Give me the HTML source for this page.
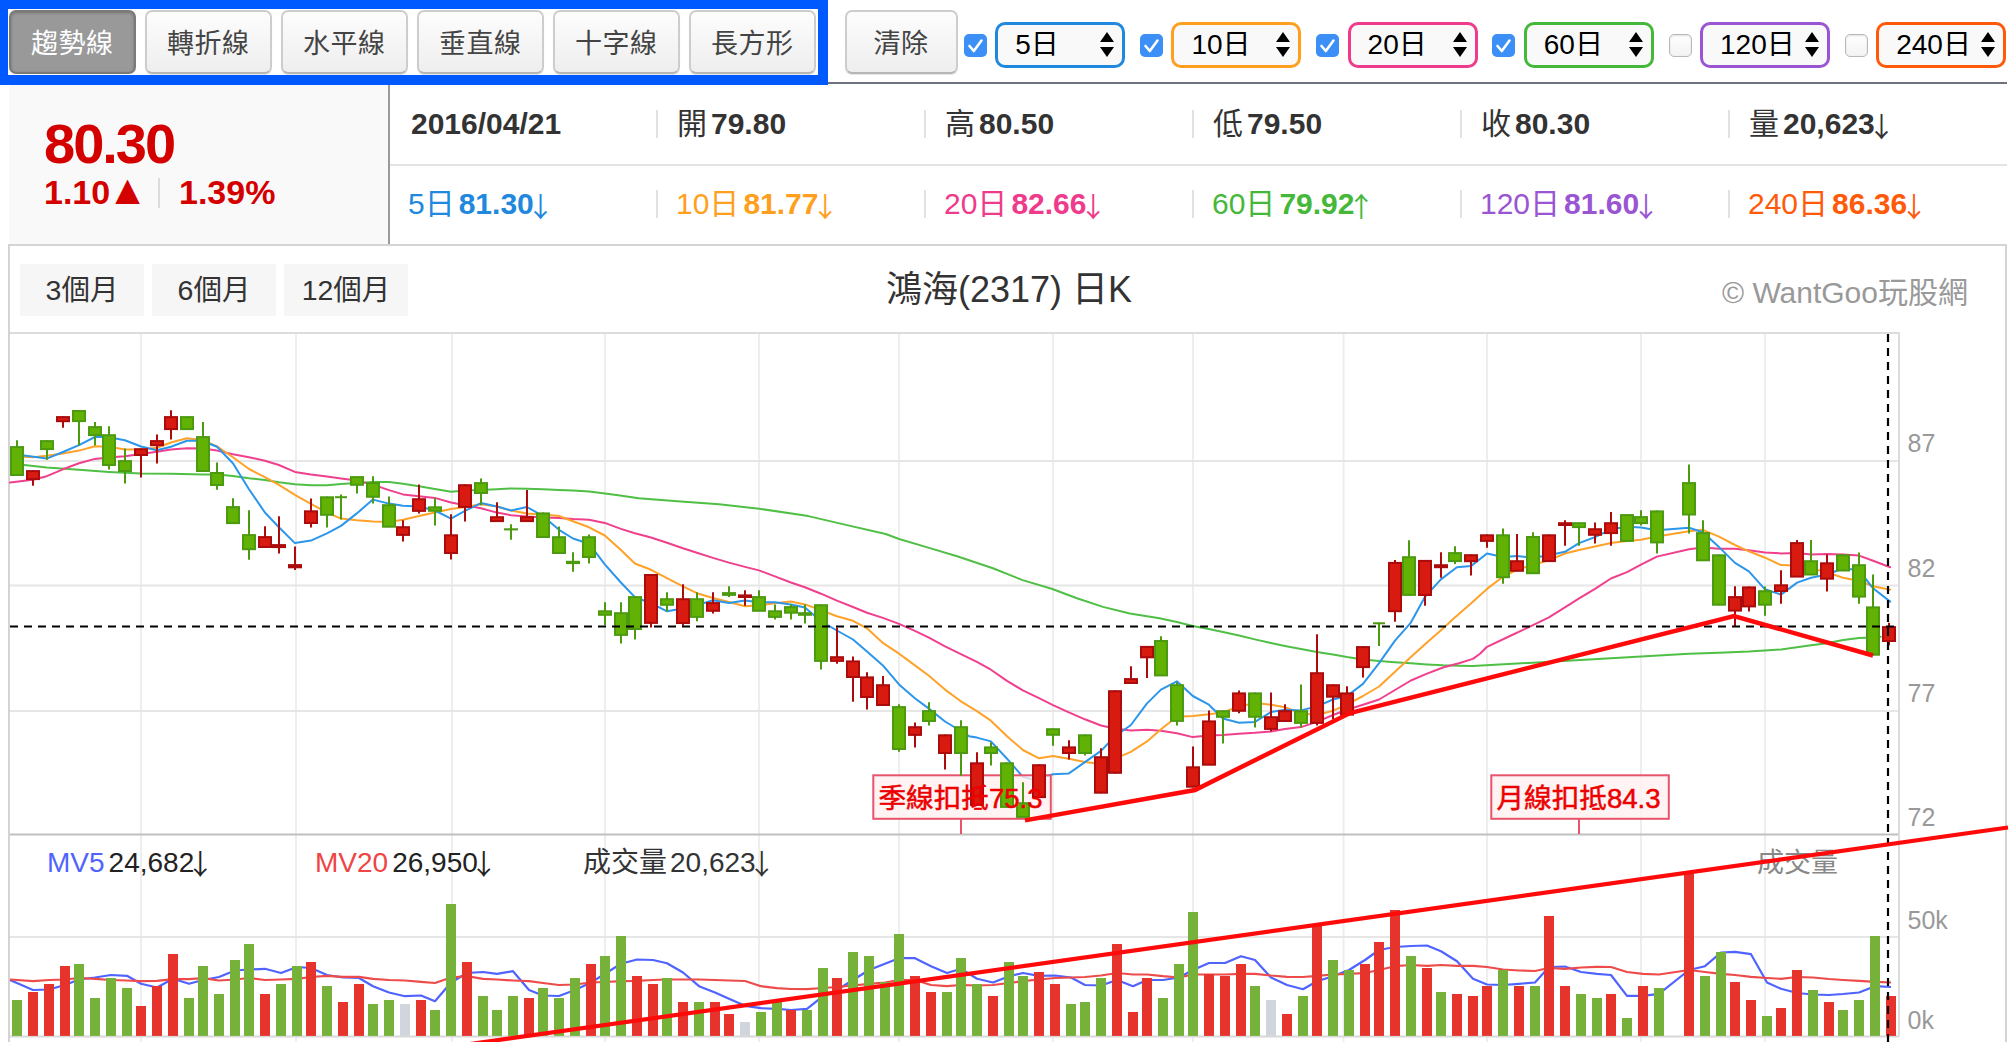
<!DOCTYPE html><html><head><meta charset="utf-8"><title>鴻海(2317) 日K</title><style>
*{box-sizing:border-box;margin:0;padding:0}
html,body{width:2016px;height:1042px;overflow:hidden;background:#fff}
body{position:relative;font-family:"Liberation Sans","Noto Sans CJK TC",sans-serif;color:#222}
.abs{position:absolute}
.bluebox{left:0;top:0;width:828px;height:85px;border:8px solid #0059ff;border-top-width:9px;border-bottom-width:10px;border-right-width:10px}
.btn{position:absolute;top:10px;height:64px;width:127px;border:2px solid #cdcdcd;border-bottom-color:#b6b6b6;border-radius:7px;background:linear-gradient(#fdfdfd,#eeeeee);box-shadow:0 1px 1px rgba(0,0,0,.10);font-size:27px;color:#444;text-align:center;line-height:65px;letter-spacing:0.5px}
.btn.on{background:#999;border-color:#7a7a7a;color:#fff;box-shadow:inset 0 1px 3px rgba(0,0,0,.25)}
.cb{position:absolute;top:34px;width:23px;height:23px;border-radius:5px;background:#3b8ff6}
.cb.off{background:linear-gradient(#fff,#f2f2f2);border:1px solid #b8b8b8;box-shadow:inset 0 1px 2px rgba(0,0,0,.12)}
.sel{position:absolute;top:22px;width:130px;height:46px;border:3px solid #000;border-radius:10px;background:#f9f9f9;font-size:28px;line-height:39px;padding-left:17px;color:#000}
.topline{left:828px;top:82px;width:1179px;height:2px;background:#6e727c}
.leftbox{left:9px;top:85px;width:381px;height:159px;background:#f9f9f9;border-right:2px solid #9a9a9a}
.price{left:44px;top:113.5px;font-size:56px;font-weight:bold;color:#d40000;line-height:60px;letter-spacing:-2px}
.chg{top:172px;font-size:34px;font-weight:bold;color:#d40000;line-height:40px}
.row{position:absolute;font-size:30px;line-height:40px;white-space:nowrap}
.ar{font-family:'Noto Sans CJK TC',sans-serif;font-weight:normal;font-size:27.5px;margin-left:-7px;margin-right:-8px;position:relative;top:3px;line-height:0}
.row b{font-weight:bold}
.vsep{position:absolute;width:2px;height:28px;background:#e2e2e2}
.hsep{left:390px;top:164px;width:1617px;height:2px;background:#e4e4e4}
.chartbox{left:8px;top:244px;width:1999px;height:810px;border:2px solid #d4d4d4;border-bottom:none}
.rbtn{position:absolute;top:264px;width:124px;height:52px;background:#f6f6f6;font-size:28.5px;line-height:52px;text-align:center;color:#333}
.title{left:609px;width:800px;top:268px;font-size:36px;line-height:44px;text-align:center;color:#333}
.copy{right:48px;top:273px;font-size:30px;line-height:40px;color:#999;white-space:nowrap}
svg{position:absolute;left:0;top:0}
svg text{font-family:"Liberation Sans","Noto Sans CJK TC",sans-serif}
</style></head><body>
<div class="abs bluebox"></div>
<div class="btn on" style="left:8.7px">趨勢線</div>
<div class="btn" style="left:144.7px">轉折線</div>
<div class="btn" style="left:280.7px">水平線</div>
<div class="btn" style="left:416.7px">垂直線</div>
<div class="btn" style="left:552.7px">十字線</div>
<div class="btn" style="left:688.7px">長方形</div>
<div class="btn" style="left:844.5px;width:113px">清除</div>
<div class="cb" style="left:963.8px"><svg width="23" height="23" viewBox="0 0 23 23" style="position:static;display:block"><path d="M5.5 12 L9.8 17 L17.5 6.5" fill="none" stroke="#fff" stroke-width="2.6" stroke-linecap="round" stroke-linejoin="round"/></svg></div>
<div class="sel" style="left:995.2px;border-color:#2089de">5日<svg width="14" height="26" viewBox="0 0 14 26" style="position:absolute;left:102px;top:7px"><path d="M7 0 L14 10 L0 10 Z M0 15 L14 15 L7 25 Z" fill="#000"/></svg></div>
<div class="cb" style="left:1140.0px"><svg width="23" height="23" viewBox="0 0 23 23" style="position:static;display:block"><path d="M5.5 12 L9.8 17 L17.5 6.5" fill="none" stroke="#fff" stroke-width="2.6" stroke-linecap="round" stroke-linejoin="round"/></svg></div>
<div class="sel" style="left:1171.4px;border-color:#ff9f20">10日<svg width="14" height="26" viewBox="0 0 14 26" style="position:absolute;left:102px;top:7px"><path d="M7 0 L14 10 L0 10 Z M0 15 L14 15 L7 25 Z" fill="#000"/></svg></div>
<div class="cb" style="left:1316.2px"><svg width="23" height="23" viewBox="0 0 23 23" style="position:static;display:block"><path d="M5.5 12 L9.8 17 L17.5 6.5" fill="none" stroke="#fff" stroke-width="2.6" stroke-linecap="round" stroke-linejoin="round"/></svg></div>
<div class="sel" style="left:1347.6px;border-color:#ef3b8b">20日<svg width="14" height="26" viewBox="0 0 14 26" style="position:absolute;left:102px;top:7px"><path d="M7 0 L14 10 L0 10 Z M0 15 L14 15 L7 25 Z" fill="#000"/></svg></div>
<div class="cb" style="left:1492.4px"><svg width="23" height="23" viewBox="0 0 23 23" style="position:static;display:block"><path d="M5.5 12 L9.8 17 L17.5 6.5" fill="none" stroke="#fff" stroke-width="2.6" stroke-linecap="round" stroke-linejoin="round"/></svg></div>
<div class="sel" style="left:1523.8px;border-color:#45b83a">60日<svg width="14" height="26" viewBox="0 0 14 26" style="position:absolute;left:102px;top:7px"><path d="M7 0 L14 10 L0 10 Z M0 15 L14 15 L7 25 Z" fill="#000"/></svg></div>
<div class="cb off" style="left:1668.6px"></div>
<div class="sel" style="left:1700.0px;border-color:#9a55d3">120日<svg width="14" height="26" viewBox="0 0 14 26" style="position:absolute;left:102px;top:7px"><path d="M7 0 L14 10 L0 10 Z M0 15 L14 15 L7 25 Z" fill="#000"/></svg></div>
<div class="cb off" style="left:1844.8px"></div>
<div class="sel" style="left:1876.2px;border-color:#ff5a0a">240日<svg width="14" height="26" viewBox="0 0 14 26" style="position:absolute;left:102px;top:7px"><path d="M7 0 L14 10 L0 10 Z M0 15 L14 15 L7 25 Z" fill="#000"/></svg></div>
<div class="abs topline"></div>
<div class="abs leftbox"></div>
<div class="abs price">80.30</div>
<div class="abs chg" style="left:44px;top:171.5px">1.10<span style="font-size:32px;font-family:DejaVu Sans,sans-serif;margin-left:5px;position:relative;top:-3.5px;line-height:0">▲</span></div>
<div class="vsep" style="left:158px;top:178px;height:30px;background:#dcdcdc"></div>
<div class="abs chg" style="left:179px">1.39%</div>
<div class="row" style="left:411px;top:104px;color:#333"><b style="margin-left:0px">2016/04/21</b></div>
<div class="row" style="left:677px;top:104px;color:#333">開<b style="margin-left:4px">79.80</b></div>
<div class="vsep" style="left:656px;top:110px"></div>
<div class="row" style="left:945px;top:104px;color:#333">高<b style="margin-left:4px">80.50</b></div>
<div class="vsep" style="left:924px;top:110px"></div>
<div class="row" style="left:1213px;top:104px;color:#333">低<b style="margin-left:4px">79.50</b></div>
<div class="vsep" style="left:1192px;top:110px"></div>
<div class="row" style="left:1481px;top:104px;color:#333">收<b style="margin-left:4px">80.30</b></div>
<div class="vsep" style="left:1460px;top:110px"></div>
<div class="row" style="left:1749px;top:104px;color:#333">量<b style="margin-left:4px">20,623<span class="ar">↓</span></b></div>
<div class="vsep" style="left:1728px;top:110px"></div>
<div class="row" style="left:408px;top:184px;color:#2089de">5日<b style="margin-left:4px">81.30<span class="ar">↓</span></b></div>
<div class="row" style="left:676px;top:184px;color:#ff9f20">10日<b style="margin-left:4px">81.77<span class="ar">↓</span></b></div>
<div class="vsep" style="left:656px;top:190px"></div>
<div class="row" style="left:944px;top:184px;color:#ef3b8b">20日<b style="margin-left:4px">82.66<span class="ar">↓</span></b></div>
<div class="vsep" style="left:924px;top:190px"></div>
<div class="row" style="left:1212px;top:184px;color:#45b83a">60日<b style="margin-left:4px">79.92<span class="ar">↑</span></b></div>
<div class="vsep" style="left:1192px;top:190px"></div>
<div class="row" style="left:1480px;top:184px;color:#9a55d3">120日<b style="margin-left:4px">81.60<span class="ar">↓</span></b></div>
<div class="vsep" style="left:1460px;top:190px"></div>
<div class="row" style="left:1748px;top:184px;color:#ff5a0a">240日<b style="margin-left:4px">86.36<span class="ar">↓</span></b></div>
<div class="vsep" style="left:1728px;top:190px"></div>
<div class="abs hsep"></div>
<div class="abs chartbox"></div>
<div class="rbtn" style="left:20px">3個月</div>
<div class="rbtn" style="left:152px">6個月</div>
<div class="rbtn" style="left:284px">12個月</div>
<div class="abs title">鴻海(2317) 日K</div>
<div class="abs copy">© WantGoo玩股網</div>
<svg width="2016" height="1042" viewBox="0 0 2016 1042">
<path d="M141 333 V1042.5" stroke="#eeeeee" stroke-width="2"/><path d="M296 333 V1042.5" stroke="#eeeeee" stroke-width="2"/><path d="M452 333 V1042.5" stroke="#eeeeee" stroke-width="2"/><path d="M605 333 V1042.5" stroke="#eeeeee" stroke-width="2"/><path d="M759 333 V1042.5" stroke="#eeeeee" stroke-width="2"/><path d="M899 333 V1042.5" stroke="#eeeeee" stroke-width="2"/><path d="M1053 333 V1042.5" stroke="#eeeeee" stroke-width="2"/><path d="M1193 333 V1042.5" stroke="#eeeeee" stroke-width="2"/><path d="M1343.5 333 V1042.5" stroke="#eeeeee" stroke-width="2"/><path d="M1487 333 V1042.5" stroke="#eeeeee" stroke-width="2"/><path d="M1641 333 V1042.5" stroke="#eeeeee" stroke-width="2"/><path d="M1765 333 V1042.5" stroke="#eeeeee" stroke-width="2"/><path d="M10 461 H1899" stroke="#e6e6e6" stroke-width="2"/><path d="M10 585.5 H1899" stroke="#e6e6e6" stroke-width="2"/><path d="M10 711 H1899" stroke="#e6e6e6" stroke-width="2"/><path d="M10 937 H1899" stroke="#e6e6e6" stroke-width="2"/><path d="M10 333 H1899 V834.5" stroke="#dcdcdc" stroke-width="2" fill="none"/><path d="M10 834.5 H1899" stroke="#c0c0c0" stroke-width="2"/><path d="M1899 834.5 V1036.5" stroke="#dcdcdc" stroke-width="2"/><path d="M10 1036.5 H1899" stroke="#d8d8d8" stroke-width="2"/>
<path d="M10.0 980.0 L33.0 990.0 L49.0 989.5 L65.0 985.0 L79.0 979.5 L95.0 977.5 L111.0 975.0 L127.0 975.8 L141.0 983.8 L157.0 987.5 L173.0 978.8 L189.0 983.8 L203.0 980.0 L219.0 977.0 L235.0 970.5 L249.0 969.5 L265.0 968.8 L281.0 973.0 L297.0 967.0 L311.0 968.0 L327.0 975.0 L343.0 977.5 L359.0 978.0 L373.0 986.2 L389.0 992.5 L405.0 996.2 L421.0 995.5 L435.0 1001.2 L451.0 982.5 L467.0 973.0 L483.0 972.0 L497.0 973.8 L513.0 971.2 L529.0 990.0 L543.0 995.5 L559.0 996.0 L575.0 990.0 L591.0 982.5 L605.0 973.8 L621.0 963.8 L637.0 959.5 L653.0 960.0 L667.0 963.2 L683.0 972.5 L699.0 986.2 L715.0 992.5 L729.0 998.8 L745.0 1005.8 L761.0 1008.2 L777.0 1008.8 L791.0 1010.0 L807.0 1008.8 L823.0 996.2 L837.0 990.0 L853.0 980.0 L869.0 970.0 L885.0 963.8 L899.0 958.2 L915.0 958.2 L931.0 966.2 L947.0 973.0 L961.0 968.8 L977.0 978.8 L993.0 982.5 L1009.0 976.2 L1023.0 973.0 L1039.0 975.8 L1055.0 975.5 L1071.0 977.5 L1085.0 985.0 L1101.0 985.5 L1117.0 980.0 L1133.0 986.2 L1147.0 980.0 L1163.0 980.0 L1179.0 977.5 L1193.0 970.0 L1209.0 963.0 L1225.0 963.0 L1241.0 956.2 L1255.0 960.0 L1271.0 977.5 L1287.0 985.0 L1303.0 989.2 L1317.0 981.2 L1333.0 976.2 L1349.0 970.0 L1365.0 960.0 L1379.0 950.0 L1395.0 947.0 L1411.0 946.0 L1427.0 945.5 L1441.0 951.2 L1457.0 961.2 L1473.0 978.8 L1487.0 984.5 L1503.0 985.0 L1519.0 983.8 L1535.0 982.5 L1549.0 967.0 L1565.0 966.5 L1581.0 972.0 L1597.0 973.8 L1611.0 975.0 L1627.0 995.8 L1643.0 995.8 L1659.0 993.8 L1689.0 970.0 L1705.0 966.2 L1721.0 952.5 L1735.0 951.8 L1751.0 954.2 L1767.0 982.5 L1781.0 988.8 L1797.0 993.0 L1813.0 994.5 L1829.0 995.0 L1843.0 994.0 L1859.0 992.5 L1875.0 986.2 L1891.0 987.0" fill="none" stroke="#4f63ff" stroke-width="2.2" stroke-linejoin="round"/>
<path d="M10.0 979.5 L33.0 981.2 L49.0 980.0 L65.0 979.5 L79.0 978.0 L95.0 978.8 L111.0 980.0 L127.0 980.5 L141.0 981.2 L157.0 980.8 L173.0 979.2 L189.0 979.2 L203.0 978.2 L219.0 980.5 L235.0 979.5 L249.0 978.0 L265.0 980.0 L281.0 979.5 L297.0 978.8 L311.0 977.0 L327.0 975.8 L343.0 976.8 L359.0 976.8 L373.0 978.8 L389.0 980.0 L405.0 980.5 L421.0 981.8 L435.0 983.0 L451.0 977.5 L467.0 976.2 L483.0 978.8 L497.0 979.5 L513.0 980.5 L529.0 981.2 L543.0 983.0 L559.0 985.0 L575.0 984.5 L591.0 982.5 L605.0 982.0 L621.0 981.2 L637.0 980.8 L653.0 980.0 L667.0 979.5 L683.0 979.5 L699.0 979.5 L715.0 980.0 L729.0 980.5 L745.0 981.0 L761.0 986.2 L777.0 988.2 L791.0 989.0 L807.0 989.2 L823.0 988.0 L837.0 987.0 L853.0 985.5 L869.0 983.8 L885.0 982.5 L899.0 980.0 L915.0 980.0 L931.0 985.0 L947.0 986.2 L961.0 985.0 L977.0 985.5 L993.0 985.0 L1009.0 983.0 L1023.0 981.2 L1039.0 979.5 L1055.0 978.0 L1071.0 977.5 L1085.0 977.0 L1101.0 975.5 L1117.0 973.0 L1133.0 974.5 L1147.0 974.5 L1163.0 976.2 L1179.0 977.5 L1193.0 974.5 L1209.0 974.5 L1225.0 974.5 L1241.0 973.8 L1255.0 973.8 L1271.0 975.5 L1287.0 976.8 L1303.0 977.0 L1317.0 975.8 L1333.0 974.5 L1349.0 973.8 L1365.0 973.0 L1379.0 970.0 L1395.0 966.2 L1411.0 965.0 L1427.0 965.8 L1441.0 965.0 L1457.0 965.8 L1473.0 965.8 L1487.0 967.0 L1503.0 969.5 L1519.0 970.5 L1535.0 971.0 L1549.0 968.0 L1565.0 968.8 L1581.0 967.5 L1597.0 966.8 L1611.0 967.0 L1627.0 972.0 L1643.0 973.8 L1659.0 974.5 L1689.0 970.0 L1705.0 972.0 L1721.0 973.8 L1735.0 975.0 L1751.0 976.8 L1767.0 978.0 L1781.0 978.8 L1797.0 977.0 L1813.0 977.5 L1829.0 979.0 L1843.0 980.0 L1859.0 980.8 L1875.0 981.8 L1891.0 982.5" fill="none" stroke="#ee4b4b" stroke-width="2.2" stroke-linejoin="round"/>
<rect x="12" y="1000.0" width="10" height="35.9" fill="#76b139"/><rect x="28" y="992.0" width="10" height="43.9" fill="#e6342c"/><rect x="44" y="984.0" width="10" height="51.9" fill="#e6342c"/><rect x="60" y="966.0" width="10" height="69.9" fill="#e6342c"/><rect x="74" y="964.0" width="10" height="71.9" fill="#76b139"/><rect x="90" y="998.0" width="10" height="37.9" fill="#76b139"/><rect x="106" y="978.0" width="10" height="57.9" fill="#76b139"/><rect x="122" y="988.0" width="10" height="47.9" fill="#76b139"/><rect x="136" y="1006.0" width="10" height="29.9" fill="#e6342c"/><rect x="152" y="986.0" width="10" height="49.9" fill="#e6342c"/><rect x="168" y="954.0" width="10" height="81.9" fill="#e6342c"/><rect x="184" y="998.0" width="10" height="37.9" fill="#76b139"/><rect x="198" y="966.0" width="10" height="69.9" fill="#76b139"/><rect x="214" y="994.0" width="10" height="41.9" fill="#76b139"/><rect x="230" y="960.0" width="10" height="75.9" fill="#76b139"/><rect x="244" y="944.0" width="10" height="91.9" fill="#76b139"/><rect x="260" y="994.0" width="10" height="41.9" fill="#e6342c"/><rect x="276" y="984.0" width="10" height="51.9" fill="#76b139"/><rect x="292" y="966.0" width="10" height="69.9" fill="#76b139"/><rect x="306" y="962.0" width="10" height="73.9" fill="#e6342c"/><rect x="322" y="986.0" width="10" height="49.9" fill="#76b139"/><rect x="338" y="1002.0" width="10" height="33.9" fill="#e6342c"/><rect x="354" y="984.0" width="10" height="51.9" fill="#e6342c"/><rect x="368" y="1004.0" width="10" height="31.9" fill="#76b139"/><rect x="384" y="1000.0" width="10" height="35.9" fill="#76b139"/><rect x="400" y="1004.0" width="10" height="31.9" fill="#d0d6db"/><rect x="416" y="1000.0" width="10" height="35.9" fill="#e6342c"/><rect x="430" y="1010.0" width="10" height="25.9" fill="#76b139"/><rect x="446" y="904.0" width="10" height="131.9" fill="#76b139"/><rect x="462" y="962.0" width="10" height="73.9" fill="#e6342c"/><rect x="478" y="996.0" width="10" height="39.9" fill="#76b139"/><rect x="492" y="1010.0" width="10" height="25.9" fill="#76b139"/><rect x="508" y="996.0" width="10" height="39.9" fill="#76b139"/><rect x="524" y="998.0" width="10" height="37.9" fill="#e6342c"/><rect x="538" y="988.0" width="10" height="47.9" fill="#76b139"/><rect x="554" y="998.0" width="10" height="37.9" fill="#76b139"/><rect x="570" y="978.0" width="10" height="57.9" fill="#76b139"/><rect x="586" y="964.0" width="10" height="71.9" fill="#e6342c"/><rect x="600" y="956.0" width="10" height="79.9" fill="#76b139"/><rect x="616" y="936.0" width="10" height="99.9" fill="#76b139"/><rect x="632" y="976.0" width="10" height="59.9" fill="#e6342c"/><rect x="648" y="984.0" width="10" height="51.9" fill="#e6342c"/><rect x="662" y="978.0" width="10" height="57.9" fill="#76b139"/><rect x="678" y="1002.0" width="10" height="33.9" fill="#e6342c"/><rect x="694" y="1002.0" width="10" height="33.9" fill="#76b139"/><rect x="710" y="1002.0" width="10" height="33.9" fill="#e6342c"/><rect x="724" y="1014.0" width="10" height="21.9" fill="#e6342c"/><rect x="740" y="1022.0" width="10" height="13.9" fill="#d0d6db"/><rect x="756" y="1012.0" width="10" height="23.9" fill="#76b139"/><rect x="772" y="1002.0" width="10" height="33.9" fill="#76b139"/><rect x="786" y="1010.0" width="10" height="25.9" fill="#e6342c"/><rect x="802" y="1010.0" width="10" height="25.9" fill="#76b139"/><rect x="818" y="968.0" width="10" height="67.9" fill="#76b139"/><rect x="832" y="978.0" width="10" height="57.9" fill="#e6342c"/><rect x="848" y="952.0" width="10" height="83.9" fill="#76b139"/><rect x="864" y="956.0" width="10" height="79.9" fill="#76b139"/><rect x="880" y="982.0" width="10" height="53.9" fill="#76b139"/><rect x="894" y="934.0" width="10" height="101.9" fill="#76b139"/><rect x="910" y="976.0" width="10" height="59.9" fill="#e6342c"/><rect x="926" y="992.0" width="10" height="43.9" fill="#e6342c"/><rect x="942" y="992.0" width="10" height="43.9" fill="#76b139"/><rect x="956" y="958.0" width="10" height="77.9" fill="#76b139"/><rect x="972" y="984.0" width="10" height="51.9" fill="#76b139"/><rect x="988" y="996.0" width="10" height="39.9" fill="#e6342c"/><rect x="1004" y="962.0" width="10" height="73.9" fill="#76b139"/><rect x="1018" y="976.0" width="10" height="59.9" fill="#76b139"/><rect x="1034" y="972.0" width="10" height="63.9" fill="#e6342c"/><rect x="1050" y="984.0" width="10" height="51.9" fill="#e6342c"/><rect x="1066" y="1004.0" width="10" height="31.9" fill="#76b139"/><rect x="1080" y="1002.0" width="10" height="33.9" fill="#76b139"/><rect x="1096" y="978.0" width="10" height="57.9" fill="#76b139"/><rect x="1112" y="944.0" width="10" height="91.9" fill="#e6342c"/><rect x="1128" y="1012.0" width="10" height="23.9" fill="#e6342c"/><rect x="1142" y="978.0" width="10" height="57.9" fill="#e6342c"/><rect x="1158" y="998.0" width="10" height="37.9" fill="#76b139"/><rect x="1174" y="964.0" width="10" height="71.9" fill="#76b139"/><rect x="1188" y="912.0" width="10" height="123.9" fill="#76b139"/><rect x="1204" y="974.0" width="10" height="61.9" fill="#e6342c"/><rect x="1220" y="976.0" width="10" height="59.9" fill="#e6342c"/><rect x="1236" y="964.0" width="10" height="71.9" fill="#e6342c"/><rect x="1250" y="986.0" width="10" height="49.9" fill="#76b139"/><rect x="1266" y="1000.0" width="10" height="35.9" fill="#d0d6db"/><rect x="1282" y="1014.0" width="10" height="21.9" fill="#e6342c"/><rect x="1298" y="996.0" width="10" height="39.9" fill="#76b139"/><rect x="1312" y="925.0" width="10" height="110.9" fill="#e6342c"/><rect x="1328" y="960.0" width="10" height="75.9" fill="#76b139"/><rect x="1344" y="970.0" width="10" height="65.9" fill="#76b139"/><rect x="1360" y="964.0" width="10" height="71.9" fill="#e6342c"/><rect x="1374" y="942.0" width="10" height="93.9" fill="#e6342c"/><rect x="1390" y="910.0" width="10" height="125.9" fill="#e6342c"/><rect x="1406" y="956.0" width="10" height="79.9" fill="#76b139"/><rect x="1422" y="968.0" width="10" height="67.9" fill="#e6342c"/><rect x="1436" y="992.0" width="10" height="43.9" fill="#76b139"/><rect x="1452" y="994.0" width="10" height="41.9" fill="#e6342c"/><rect x="1468" y="996.0" width="10" height="39.9" fill="#e6342c"/><rect x="1482" y="986.0" width="10" height="49.9" fill="#e6342c"/><rect x="1498" y="970.0" width="10" height="65.9" fill="#76b139"/><rect x="1514" y="986.0" width="10" height="49.9" fill="#e6342c"/><rect x="1530" y="986.0" width="10" height="49.9" fill="#76b139"/><rect x="1544" y="916.0" width="10" height="119.9" fill="#e6342c"/><rect x="1560" y="986.0" width="10" height="49.9" fill="#e6342c"/><rect x="1576" y="994.0" width="10" height="41.9" fill="#76b139"/><rect x="1592" y="998.0" width="10" height="37.9" fill="#76b139"/><rect x="1606" y="994.0" width="10" height="41.9" fill="#e6342c"/><rect x="1622" y="1018.0" width="10" height="17.9" fill="#76b139"/><rect x="1638" y="986.0" width="10" height="49.9" fill="#e6342c"/><rect x="1654" y="988.0" width="10" height="47.9" fill="#76b139"/><rect x="1684" y="874.0" width="10" height="161.9" fill="#e6342c"/><rect x="1700" y="976.0" width="10" height="59.9" fill="#76b139"/><rect x="1716" y="952.0" width="10" height="83.9" fill="#76b139"/><rect x="1730" y="982.0" width="10" height="53.9" fill="#e6342c"/><rect x="1746" y="1000.0" width="10" height="35.9" fill="#e6342c"/><rect x="1762" y="1016.0" width="10" height="19.9" fill="#76b139"/><rect x="1776" y="1008.0" width="10" height="27.9" fill="#e6342c"/><rect x="1792" y="970.0" width="10" height="65.9" fill="#e6342c"/><rect x="1808" y="990.0" width="10" height="45.9" fill="#76b139"/><rect x="1824" y="1002.0" width="10" height="33.9" fill="#e6342c"/><rect x="1838" y="1010.0" width="10" height="25.9" fill="#76b139"/><rect x="1854" y="1000.0" width="10" height="35.9" fill="#76b139"/><rect x="1870" y="936.0" width="10" height="99.9" fill="#76b139"/><rect x="1886" y="996.0" width="10" height="39.9" fill="#e6342c"/>
<path d="M24.2 465.0 L46.8 467.6 L79.0 469.8 L108.9 471.9 L141.0 473.6 L170.9 473.8 L203.0 474.5 L217.0 474.5 L232.9 475.9 L249.0 478.3 L264.9 480.0 L278.9 482.3 L294.9 484.3 L310.9 485.3 L327.0 485.3 L341.0 484.1 L356.8 482.9 L372.9 482.0 L389.0 482.0 L403.0 483.7 L419.0 486.3 L434.9 488.9 L451.0 491.8 L465.0 490.6 L480.9 490.1 L497.0 489.2 L511.0 488.4 L527.0 488.7 L542.9 489.2 L559.0 490.1 L573.0 490.6 L589.1 491.5 L605.0 493.6 L620.0 495.6 L638.7 498.3 L677.4 501.2 L719.0 504.2 L759.2 508.7 L808.3 516.1 L847.0 525.1 L885.7 534.0 L899.1 539.0 L927.4 547.4 L957.1 556.3 L992.9 568.2 L1022.6 580.1 L1052.4 589.0 L1076.2 598.0 L1103.0 606.9 L1129.8 613.5 L1159.5 618.2 L1176.9 622.1 L1192.8 626.0 L1208.9 629.0 L1222.9 632.1 L1239.0 635.6 L1254.9 639.4 L1270.9 643.0 L1284.9 645.9 L1301.0 649.0 L1316.9 652.0 L1333.0 654.6 L1347.0 657.1 L1363.0 659.4 L1379.1 661.1 L1395.0 662.3 L1410.9 663.2 L1427.0 664.4 L1443.0 665.3 L1458.9 665.8 L1472.9 666.1 L1689.0 653.7 L1719.0 652.7 L1748.9 651.6 L1781.0 649.5 L1811.0 645.3 L1827.0 643.2 L1843.1 640.0 L1859.1 637.9 L1873.1 637.5 L1880.7 636.8" fill="none" stroke="#4fbf45" stroke-width="2" stroke-linejoin="round" stroke-linecap="round"/>
<path d="M10.0 482.6 L32.8 479.7 L46.8 476.2 L62.9 469.3 L79.0 463.3 L94.9 458.9 L108.9 457.5 L124.9 456.3 L141.0 454.1 L156.9 451.7 L170.9 449.4 L187.0 448.2 L203.0 448.6 L217.0 450.6 L232.9 454.3 L249.0 457.2 L264.9 460.7 L278.9 465.0 L294.9 471.9 L310.9 474.6 L327.0 476.6 L341.0 478.4 L356.8 480.6 L372.9 484.6 L389.0 490.1 L403.0 494.4 L419.0 496.2 L434.9 497.9 L451.0 502.5 L465.0 505.3 L480.9 508.3 L497.0 512.6 L511.0 515.2 L527.0 516.5 L542.9 517.4 L559.0 518.1 L573.0 519.1 L589.1 519.8 L604.8 522.9 L620.9 528.9 L634.9 533.2 L651.0 537.5 L667.0 542.7 L682.9 548.3 L696.9 552.7 L713.0 557.9 L728.9 562.6 L745.0 566.9 L759.0 570.4 L774.9 576.4 L790.9 582.5 L804.9 587.3 L821.0 593.7 L836.9 600.6 L853.0 607.0 L867.0 612.7 L882.9 617.9 L899.0 623.9 L914.9 630.8 L928.9 637.7 L945.0 646.4 L960.9 654.1 L976.9 661.9 L990.9 669.7 L1007.0 680.9 L1022.9 690.4 L1039.0 698.2 L1053.0 705.1 L1068.9 712.4 L1084.9 719.3 L1101.0 725.5 L1115.0 728.4 L1130.9 730.5 L1147.0 729.8 L1161.0 730.7 L1176.9 733.2 L1192.8 737.1 L1208.9 735.4 L1222.9 734.9 L1239.0 733.7 L1254.9 732.8 L1270.9 731.4 L1284.9 728.9 L1301.0 727.1 L1316.9 721.9 L1333.0 715.0 L1347.0 709.8 L1363.0 704.7 L1379.1 699.5 L1395.0 690.0 L1410.9 680.5 L1427.0 673.6 L1443.0 667.5 L1458.9 663.2 L1472.9 658.9 L1480.0 653.7 L1487.0 646.8 L1512.1 635.0 L1533.0 625.2 L1548.9 617.4 L1564.9 607.4 L1579.1 598.4 L1595.0 588.9 L1610.9 578.5 L1627.0 572.1 L1641.0 564.7 L1656.9 556.6 L1689.0 549.2 L1702.9 547.5 L1719.0 548.8 L1735.0 548.8 L1748.9 550.3 L1765.0 552.4 L1781.0 553.4 L1797.1 553.0 L1811.0 554.5 L1827.0 554.1 L1843.1 554.5 L1859.1 555.6 L1873.1 560.8 L1890.2 567.2" fill="none" stroke="#f0408d" stroke-width="2" stroke-linejoin="round" stroke-linecap="round"/>
<path d="M24.2 456.7 L32.8 457.2 L46.8 455.8 L62.9 453.4 L79.0 450.6 L94.9 446.3 L108.9 446.8 L124.9 449.4 L141.0 449.6 L156.9 447.7 L170.9 442.5 L187.0 438.2 L203.0 440.3 L217.0 446.3 L232.9 457.2 L249.0 469.0 L264.9 477.1 L278.9 484.8 L294.9 494.9 L310.9 503.9 L327.0 512.6 L341.0 518.6 L356.8 520.3 L372.9 521.6 L389.0 522.1 L403.0 519.8 L419.0 516.0 L434.9 512.6 L451.0 509.1 L465.0 507.0 L480.9 504.3 L497.0 506.5 L511.0 510.5 L527.0 513.4 L542.9 514.6 L559.0 516.0 L573.0 521.2 L589.1 527.3 L604.8 535.5 L620.9 550.0 L634.9 563.5 L651.0 569.8 L667.0 578.1 L682.9 586.3 L696.9 593.2 L713.0 598.0 L728.9 602.0 L745.0 606.3 L759.0 605.3 L774.9 603.2 L790.9 601.5 L804.9 604.4 L821.0 610.1 L836.9 616.2 L853.0 620.8 L867.0 628.3 L882.9 642.9 L899.0 653.6 L914.9 665.4 L928.9 675.7 L945.0 689.6 L960.9 701.3 L976.9 711.2 L990.9 720.7 L1007.0 736.2 L1022.9 750.0 L1039.0 758.3 L1053.0 756.1 L1068.9 758.7 L1084.9 762.1 L1101.0 763.9 L1115.0 758.7 L1130.9 751.8 L1147.0 741.4 L1161.0 729.3 L1176.9 716.8 L1192.8 715.9 L1208.9 714.2 L1222.9 712.4 L1239.0 706.4 L1254.9 702.9 L1270.9 704.7 L1284.9 707.3 L1301.0 713.3 L1316.9 715.0 L1333.0 710.7 L1347.0 704.7 L1363.0 696.0 L1379.1 686.5 L1395.0 671.8 L1410.9 657.1 L1427.0 642.5 L1443.0 628.6 L1452.0 620.0 L1470.9 603.6 L1487.0 588.9 L1502.9 576.8 L1516.9 569.9 L1533.0 564.7 L1548.9 560.4 L1564.9 553.5 L1579.1 550.0 L1595.0 546.6 L1610.9 543.1 L1627.0 541.0 L1641.0 539.7 L1656.9 536.6 L1689.0 531.3 L1702.9 529.8 L1719.0 536.6 L1735.0 545.0 L1748.9 551.3 L1765.0 557.7 L1781.0 565.1 L1797.1 565.5 L1811.0 568.2 L1827.0 572.4 L1843.1 577.7 L1859.1 580.9 L1873.1 586.2 L1890.2 589.8" fill="none" stroke="#ffa22a" stroke-width="2" stroke-linejoin="round" stroke-linecap="round"/>
<path d="M24.2 455.5 L46.8 458.6 L62.9 452.0 L79.0 445.1 L94.9 437.0 L101.9 436.8 L108.9 437.3 L124.9 440.3 L141.0 446.5 L156.9 450.3 L170.9 446.8 L187.0 440.8 L195.2 440.8 L203.0 441.3 L217.0 446.8 L232.9 463.3 L249.0 489.2 L264.9 512.5 L278.9 527.2 L294.9 543.1 L310.9 540.6 L327.0 533.3 L341.0 525.9 L356.8 513.4 L372.9 499.6 L389.0 503.6 L403.0 505.7 L419.0 506.5 L434.9 510.5 L451.0 518.6 L465.0 510.8 L480.9 503.1 L497.0 506.5 L511.0 510.5 L527.0 507.0 L542.9 516.0 L559.0 529.8 L573.0 538.5 L589.1 543.7 L604.8 564.3 L620.9 582.5 L634.9 597.1 L651.0 603.2 L667.0 611.3 L682.9 608.4 L696.9 605.3 L713.0 600.3 L728.9 602.9 L745.0 600.6 L759.0 602.3 L774.9 602.3 L790.9 604.4 L804.9 607.5 L821.0 621.3 L836.9 630.5 L853.0 639.5 L867.0 651.6 L882.9 665.4 L899.0 684.4 L914.9 698.2 L928.9 708.6 L945.0 721.5 L960.9 731.0 L969.0 736.2 L976.9 737.6 L990.9 741.4 L1007.0 758.7 L1022.9 776.8 L1031.0 779.1 L1039.0 778.5 L1053.0 774.2 L1068.9 773.4 L1084.9 762.1 L1101.0 750.9 L1115.0 736.2 L1130.9 725.0 L1147.0 703.4 L1161.0 689.6 L1176.9 681.3 L1192.8 696.0 L1208.9 704.7 L1222.9 718.5 L1239.0 722.8 L1254.9 721.9 L1270.9 712.1 L1284.9 709.8 L1301.0 710.4 L1316.9 706.4 L1333.0 699.5 L1347.0 696.0 L1363.0 683.9 L1379.1 663.2 L1395.0 640.7 L1410.9 622.6 L1425.0 596.7 L1440.9 579.4 L1456.9 567.3 L1470.9 566.1 L1487.0 553.5 L1502.9 556.9 L1516.9 556.1 L1533.0 557.8 L1548.9 555.2 L1564.9 551.8 L1579.1 543.1 L1595.0 537.1 L1610.9 529.3 L1627.0 526.7 L1641.0 527.6 L1656.9 530.2 L1689.0 527.7 L1702.9 532.3 L1719.0 547.1 L1735.0 562.9 L1748.9 571.4 L1765.0 589.3 L1781.0 594.6 L1797.1 582.6 L1811.0 577.7 L1827.0 574.6 L1843.1 568.2 L1859.1 570.3 L1873.1 588.3 L1890.2 601.6" fill="none" stroke="#2b96ea" stroke-width="2" stroke-linejoin="round" stroke-linecap="round"/>
<path d="M961 819 V834" stroke="#e8546c" stroke-width="2"/>
<rect x="873.3" y="775.3" width="177.5" height="43.5" fill="rgba(255,240,240,0.8)" stroke="#e8546c" stroke-width="2"/>
<path d="M1579 819 V834" stroke="#e8546c" stroke-width="2"/>
<rect x="1491.3" y="775.3" width="177.5" height="43.5" fill="rgba(255,240,240,0.8)" stroke="#e8546c" stroke-width="2"/>
<path d="M17 440.3 V475.5" stroke="#4c9a10" stroke-width="2"/><rect x="11" y="447.1" width="12" height="27.9" fill="#62b206" stroke="#4c9a10" stroke-width="2"/><path d="M33 470.3 V485.7" stroke="#ab0b0b" stroke-width="2"/><rect x="27" y="471.1" width="12" height="8.0" fill="#d81a10" stroke="#ab0b0b" stroke-width="2"/><path d="M47 440.3 V459.8" stroke="#4c9a10" stroke-width="2"/><rect x="41" y="441.1" width="12" height="8.0" fill="#62b206" stroke="#4c9a10" stroke-width="2"/><path d="M63 416.3 V427.8" stroke="#ab0b0b" stroke-width="2"/><rect x="57" y="417.1" width="12" height="4.1" fill="#d81a10" stroke="#ab0b0b" stroke-width="2"/><path d="M79 410.2 V445.6" stroke="#4c9a10" stroke-width="2"/><rect x="73" y="411.0" width="12" height="10.1" fill="#62b206" stroke="#4c9a10" stroke-width="2"/><path d="M95 422.1 V445.6" stroke="#4c9a10" stroke-width="2"/><rect x="89" y="427.1" width="12" height="8.0" fill="#62b206" stroke="#4c9a10" stroke-width="2"/><path d="M109 426.3 V469.6" stroke="#4c9a10" stroke-width="2"/><rect x="103" y="435.2" width="12" height="29.8" fill="#62b206" stroke="#4c9a10" stroke-width="2"/><path d="M125 448.4 V483.6" stroke="#4c9a10" stroke-width="2"/><rect x="119" y="461.1" width="12" height="9.9" fill="#62b206" stroke="#4c9a10" stroke-width="2"/><path d="M141 448.4 V477.6" stroke="#ab0b0b" stroke-width="2"/><rect x="135" y="449.2" width="12" height="5.8" fill="#d81a10" stroke="#ab0b0b" stroke-width="2"/><path d="M157 434.4 V463.6" stroke="#ab0b0b" stroke-width="2"/><rect x="151" y="441.1" width="12" height="4.1" fill="#d81a10" stroke="#ab0b0b" stroke-width="2"/><path d="M171 410.2 V439.6" stroke="#ab0b0b" stroke-width="2"/><rect x="165" y="417.1" width="12" height="12.0" fill="#d81a10" stroke="#ab0b0b" stroke-width="2"/><path d="M187 416.3 V429.6" stroke="#4c9a10" stroke-width="2"/><rect x="181" y="417.1" width="12" height="12.0" fill="#62b206" stroke="#4c9a10" stroke-width="2"/><path d="M203 422.1 V471.5" stroke="#4c9a10" stroke-width="2"/><rect x="197" y="437.1" width="12" height="33.9" fill="#62b206" stroke="#4c9a10" stroke-width="2"/><path d="M217 462.4 V489.7" stroke="#4c9a10" stroke-width="2"/><rect x="211" y="473.0" width="12" height="12.0" fill="#62b206" stroke="#4c9a10" stroke-width="2"/><path d="M233 498.3 V523.6" stroke="#4c9a10" stroke-width="2"/><rect x="227" y="507.1" width="12" height="16.0" fill="#62b206" stroke="#4c9a10" stroke-width="2"/><path d="M249 510.2 V559.7" stroke="#4c9a10" stroke-width="2"/><rect x="243" y="535.1" width="12" height="14.1" fill="#62b206" stroke="#4c9a10" stroke-width="2"/><path d="M265 526.3 V547.6" stroke="#ab0b0b" stroke-width="2"/><rect x="259" y="537.1" width="12" height="9.9" fill="#d81a10" stroke="#ab0b0b" stroke-width="2"/><path d="M279 516.3 V553.6" stroke="#ab0b0b" stroke-width="2"/><rect x="272" y="544.1" width="14" height="4.0" fill="#ab0b0b"/><path d="M295 546.4 V569.9" stroke="#ab0b0b" stroke-width="2"/><rect x="288" y="564.1" width="14" height="4.2" fill="#ab0b0b"/><path d="M311 498.4 V527.6" stroke="#ab0b0b" stroke-width="2"/><rect x="305" y="511.3" width="12" height="11.7" fill="#d81a10" stroke="#ab0b0b" stroke-width="2"/><path d="M327 496.5 V527.6" stroke="#4c9a10" stroke-width="2"/><rect x="321" y="497.3" width="12" height="17.5" fill="#62b206" stroke="#4c9a10" stroke-width="2"/><path d="M341 494.4 V519.5" stroke="#4c9a10" stroke-width="2"/><rect x="335" y="496.2" width="12" height="2" fill="#4c9a10"/><path d="M357 476.3 V493.6" stroke="#4c9a10" stroke-width="2"/><rect x="351" y="477.1" width="12" height="7.7" fill="#62b206" stroke="#4c9a10" stroke-width="2"/><path d="M373 476.3 V503.6" stroke="#4c9a10" stroke-width="2"/><rect x="367" y="483.1" width="12" height="13.7" fill="#62b206" stroke="#4c9a10" stroke-width="2"/><path d="M389 496.5 V527.3" stroke="#4c9a10" stroke-width="2"/><rect x="383" y="505.2" width="12" height="21.5" fill="#62b206" stroke="#4c9a10" stroke-width="2"/><path d="M403 520.3 V541.6" stroke="#ab0b0b" stroke-width="2"/><rect x="397" y="527.2" width="12" height="7.7" fill="#d81a10" stroke="#ab0b0b" stroke-width="2"/><path d="M419 484.4 V513.4" stroke="#ab0b0b" stroke-width="2"/><rect x="413" y="499.2" width="12" height="11.7" fill="#d81a10" stroke="#ab0b0b" stroke-width="2"/><path d="M435 498.4 V525.5" stroke="#4c9a10" stroke-width="2"/><rect x="429" y="507.3" width="12" height="3.5" fill="#62b206" stroke="#4c9a10" stroke-width="2"/><path d="M451 514.3 V559.6" stroke="#ab0b0b" stroke-width="2"/><rect x="445" y="535.3" width="12" height="17.7" fill="#d81a10" stroke="#ab0b0b" stroke-width="2"/><path d="M465 484.4 V521.6" stroke="#ab0b0b" stroke-width="2"/><rect x="459" y="485.2" width="12" height="21.7" fill="#d81a10" stroke="#ab0b0b" stroke-width="2"/><path d="M481 478.4 V505.3" stroke="#4c9a10" stroke-width="2"/><rect x="475" y="483.1" width="12" height="9.9" fill="#62b206" stroke="#4c9a10" stroke-width="2"/><path d="M497 502.2 V521.6" stroke="#ab0b0b" stroke-width="2"/><rect x="491" y="517.2" width="12" height="3.9" fill="#d81a10" stroke="#ab0b0b" stroke-width="2"/><path d="M511 524.3 V539.7" stroke="#4c9a10" stroke-width="2"/><rect x="504" y="528.3" width="14" height="2.1" fill="#4c9a10"/><path d="M527 490.1 V521.6" stroke="#ab0b0b" stroke-width="2"/><rect x="521" y="517.2" width="12" height="3.9" fill="#d81a10" stroke="#ab0b0b" stroke-width="2"/><path d="M543 512.6 V537.5" stroke="#4c9a10" stroke-width="2"/><rect x="537" y="513.4" width="12" height="23.6" fill="#62b206" stroke="#4c9a10" stroke-width="2"/><path d="M559 526.4 V553.5" stroke="#4c9a10" stroke-width="2"/><rect x="553" y="537.2" width="12" height="15.8" fill="#62b206" stroke="#4c9a10" stroke-width="2"/><path d="M573 552.3 V571.7" stroke="#4c9a10" stroke-width="2"/><rect x="566" y="560.8" width="14" height="3.3" fill="#4c9a10"/><path d="M589 534.5 V563.5" stroke="#4c9a10" stroke-width="2"/><rect x="583" y="537.2" width="12" height="19.8" fill="#62b206" stroke="#4c9a10" stroke-width="2"/><path d="M605 602.3 V625.3" stroke="#4c9a10" stroke-width="2"/><rect x="599" y="611.3" width="12" height="3.5" fill="#62b206" stroke="#4c9a10" stroke-width="2"/><path d="M621 602.3 V643.5" stroke="#4c9a10" stroke-width="2"/><rect x="615" y="613.2" width="12" height="21.7" fill="#62b206" stroke="#4c9a10" stroke-width="2"/><path d="M635 596.3 V639.5" stroke="#4c9a10" stroke-width="2"/><rect x="629" y="597.1" width="12" height="31.9" fill="#62b206" stroke="#4c9a10" stroke-width="2"/><path d="M651 574.2 V627.4" stroke="#ab0b0b" stroke-width="2"/><rect x="645" y="575.0" width="12" height="47.9" fill="#d81a10" stroke="#ab0b0b" stroke-width="2"/><path d="M667 592.3 V611.3" stroke="#4c9a10" stroke-width="2"/><rect x="661" y="599.2" width="12" height="5.6" fill="#62b206" stroke="#4c9a10" stroke-width="2"/><path d="M683 584.2 V625.7" stroke="#ab0b0b" stroke-width="2"/><rect x="677" y="599.2" width="12" height="23.8" fill="#d81a10" stroke="#ab0b0b" stroke-width="2"/><path d="M697 592.3 V621.3" stroke="#4c9a10" stroke-width="2"/><rect x="691" y="599.2" width="12" height="17.7" fill="#62b206" stroke="#4c9a10" stroke-width="2"/><path d="M713 592.3 V613.6" stroke="#ab0b0b" stroke-width="2"/><rect x="707" y="603.1" width="12" height="7.7" fill="#d81a10" stroke="#ab0b0b" stroke-width="2"/><path d="M729 586.3 V597.1" stroke="#4c9a10" stroke-width="2"/><rect x="722" y="592.1" width="14" height="3.8" fill="#4c9a10"/><path d="M745 590.2 V605.8" stroke="#ab0b0b" stroke-width="2"/><rect x="738" y="594.4" width="14" height="3.6" fill="#ab0b0b"/><path d="M759 590.2 V611.3" stroke="#4c9a10" stroke-width="2"/><rect x="753" y="597.1" width="12" height="13.7" fill="#62b206" stroke="#4c9a10" stroke-width="2"/><path d="M775 604.4 V619.6" stroke="#4c9a10" stroke-width="2"/><rect x="769" y="611.3" width="12" height="5.6" fill="#62b206" stroke="#4c9a10" stroke-width="2"/><path d="M791 604.4 V619.6" stroke="#4c9a10" stroke-width="2"/><rect x="785" y="607.1" width="12" height="5.6" fill="#62b206" stroke="#4c9a10" stroke-width="2"/><path d="M805 604.4 V623.4" stroke="#4c9a10" stroke-width="2"/><rect x="798" y="612.2" width="14" height="3.6" fill="#4c9a10"/><path d="M821 604.4 V669.4" stroke="#4c9a10" stroke-width="2"/><rect x="815" y="605.2" width="12" height="55.7" fill="#62b206" stroke="#4c9a10" stroke-width="2"/><path d="M837 627.4 V663.7" stroke="#ab0b0b" stroke-width="2"/><rect x="831" y="657.2" width="12" height="3.7" fill="#d81a10" stroke="#ab0b0b" stroke-width="2"/><path d="M853 656.4 V701.7" stroke="#ab0b0b" stroke-width="2"/><rect x="847" y="661.4" width="12" height="15.6" fill="#d81a10" stroke="#ab0b0b" stroke-width="2"/><path d="M867 672.3 V709.5" stroke="#ab0b0b" stroke-width="2"/><rect x="861" y="677.4" width="12" height="19.6" fill="#d81a10" stroke="#ab0b0b" stroke-width="2"/><path d="M883 676.1 V705.5" stroke="#ab0b0b" stroke-width="2"/><rect x="877" y="685.2" width="12" height="19.8" fill="#d81a10" stroke="#ab0b0b" stroke-width="2"/><path d="M899 704.2 V751.8" stroke="#4c9a10" stroke-width="2"/><rect x="893" y="707.1" width="12" height="41.9" fill="#62b206" stroke="#4c9a10" stroke-width="2"/><path d="M915 722.4 V747.4" stroke="#ab0b0b" stroke-width="2"/><rect x="909" y="727.2" width="12" height="7.7" fill="#d81a10" stroke="#ab0b0b" stroke-width="2"/><path d="M929 702.2 V725.5" stroke="#4c9a10" stroke-width="2"/><rect x="923" y="711.1" width="12" height="9.9" fill="#62b206" stroke="#4c9a10" stroke-width="2"/><path d="M945 734.5 V769.6" stroke="#ab0b0b" stroke-width="2"/><rect x="939" y="735.3" width="12" height="17.7" fill="#d81a10" stroke="#ab0b0b" stroke-width="2"/><path d="M961 720.3 V776.0" stroke="#4c9a10" stroke-width="2"/><rect x="955" y="727.2" width="12" height="25.8" fill="#62b206" stroke="#4c9a10" stroke-width="2"/><path d="M977 752.3 V805.3" stroke="#ab0b0b" stroke-width="2"/><rect x="971" y="763.3" width="12" height="41.6" fill="#d81a10" stroke="#ab0b0b" stroke-width="2"/><path d="M991 742.3 V765.6" stroke="#4c9a10" stroke-width="2"/><rect x="985" y="747.4" width="12" height="5.6" fill="#62b206" stroke="#4c9a10" stroke-width="2"/><path d="M1007 762.5 V807.4" stroke="#4c9a10" stroke-width="2"/><rect x="1001" y="763.3" width="12" height="43.6" fill="#62b206" stroke="#4c9a10" stroke-width="2"/><path d="M1023 782.3 V817.4" stroke="#4c9a10" stroke-width="2"/><rect x="1017" y="803.2" width="12" height="13.7" fill="#62b206" stroke="#4c9a10" stroke-width="2"/><path d="M1039 764.4 V797.5" stroke="#ab0b0b" stroke-width="2"/><rect x="1033" y="765.2" width="12" height="31.9" fill="#d81a10" stroke="#ab0b0b" stroke-width="2"/><path d="M1053 728.4 V745.7" stroke="#4c9a10" stroke-width="2"/><rect x="1047" y="729.2" width="12" height="5.6" fill="#62b206" stroke="#4c9a10" stroke-width="2"/><path d="M1069 740.2 V759.5" stroke="#ab0b0b" stroke-width="2"/><rect x="1063" y="747.4" width="12" height="5.6" fill="#d81a10" stroke="#ab0b0b" stroke-width="2"/><path d="M1085 734.5 V755.6" stroke="#4c9a10" stroke-width="2"/><rect x="1079" y="735.3" width="12" height="17.7" fill="#62b206" stroke="#4c9a10" stroke-width="2"/><path d="M1101 748.3 V793.2" stroke="#ab0b0b" stroke-width="2"/><rect x="1095" y="757.2" width="12" height="35.5" fill="#d81a10" stroke="#ab0b0b" stroke-width="2"/><path d="M1115 690.4 V773.4" stroke="#ab0b0b" stroke-width="2"/><rect x="1109" y="691.2" width="12" height="81.6" fill="#d81a10" stroke="#ab0b0b" stroke-width="2"/><path d="M1131 666.2 V683.5" stroke="#ab0b0b" stroke-width="2"/><rect x="1125" y="679.1" width="12" height="3.9" fill="#d81a10" stroke="#ab0b0b" stroke-width="2"/><path d="M1147 646.1 V678.0" stroke="#ab0b0b" stroke-width="2"/><rect x="1141" y="646.9" width="12" height="10.4" fill="#d81a10" stroke="#ab0b0b" stroke-width="2"/><path d="M1161 636.3 V675.9" stroke="#4c9a10" stroke-width="2"/><rect x="1155" y="641.0" width="12" height="34.4" fill="#62b206" stroke="#4c9a10" stroke-width="2"/><path d="M1177 682.2 V725.4" stroke="#4c9a10" stroke-width="2"/><rect x="1171" y="685.2" width="12" height="35.7" fill="#62b206" stroke="#4c9a10" stroke-width="2"/><path d="M1193 746.5 V787.3" stroke="#ab0b0b" stroke-width="2"/><rect x="1187" y="767.3" width="12" height="19.4" fill="#d81a10" stroke="#ab0b0b" stroke-width="2"/><path d="M1209 710.4 V765.1" stroke="#ab0b0b" stroke-width="2"/><rect x="1203" y="721.4" width="12" height="43.3" fill="#d81a10" stroke="#ab0b0b" stroke-width="2"/><path d="M1223 710.4 V743.5" stroke="#4c9a10" stroke-width="2"/><rect x="1217" y="711.2" width="12" height="5.6" fill="#62b206" stroke="#4c9a10" stroke-width="2"/><path d="M1239 690.5 V713.3" stroke="#ab0b0b" stroke-width="2"/><rect x="1233" y="693.4" width="12" height="17.4" fill="#d81a10" stroke="#ab0b0b" stroke-width="2"/><path d="M1255 692.6 V727.5" stroke="#4c9a10" stroke-width="2"/><rect x="1249" y="693.4" width="12" height="23.4" fill="#62b206" stroke="#4c9a10" stroke-width="2"/><path d="M1271 692.6 V731.4" stroke="#ab0b0b" stroke-width="2"/><rect x="1265" y="717.2" width="12" height="11.7" fill="#d81a10" stroke="#ab0b0b" stroke-width="2"/><path d="M1285 704.3 V721.4" stroke="#ab0b0b" stroke-width="2"/><rect x="1279" y="711.2" width="12" height="9.8" fill="#d81a10" stroke="#ab0b0b" stroke-width="2"/><path d="M1301 684.4 V727.5" stroke="#4c9a10" stroke-width="2"/><rect x="1295" y="711.2" width="12" height="11.7" fill="#62b206" stroke="#4c9a10" stroke-width="2"/><path d="M1317 634.2 V725.4" stroke="#ab0b0b" stroke-width="2"/><rect x="1311" y="673.2" width="12" height="49.7" fill="#d81a10" stroke="#ab0b0b" stroke-width="2"/><path d="M1333 684.4 V719.4" stroke="#ab0b0b" stroke-width="2"/><rect x="1327" y="685.2" width="12" height="11.5" fill="#d81a10" stroke="#ab0b0b" stroke-width="2"/><path d="M1347 686.2 V715.0" stroke="#ab0b0b" stroke-width="2"/><rect x="1341" y="693.4" width="12" height="21.2" fill="#d81a10" stroke="#ab0b0b" stroke-width="2"/><path d="M1363 646.3 V677.5" stroke="#ab0b0b" stroke-width="2"/><rect x="1357" y="647.1" width="12" height="20.0" fill="#d81a10" stroke="#ab0b0b" stroke-width="2"/><path d="M1379 622.6 V645.9" stroke="#4c9a10" stroke-width="2"/><rect x="1373" y="622.3" width="12" height="2" fill="#4c9a10"/><path d="M1395 560.1 V621.7" stroke="#ab0b0b" stroke-width="2"/><rect x="1389" y="562.9" width="12" height="48.3" fill="#d81a10" stroke="#ab0b0b" stroke-width="2"/><path d="M1409 540.2 V595.5" stroke="#4c9a10" stroke-width="2"/><rect x="1403" y="557.2" width="12" height="37.7" fill="#62b206" stroke="#4c9a10" stroke-width="2"/><path d="M1425 560.1 V605.7" stroke="#ab0b0b" stroke-width="2"/><rect x="1419" y="560.9" width="12" height="34.1" fill="#d81a10" stroke="#ab0b0b" stroke-width="2"/><path d="M1441 552.3 V577.7" stroke="#ab0b0b" stroke-width="2"/><rect x="1434" y="564.2" width="14" height="4.0" fill="#ab0b0b"/><path d="M1455 546.2 V563.9" stroke="#4c9a10" stroke-width="2"/><rect x="1449" y="553.1" width="12" height="8.0" fill="#62b206" stroke="#4c9a10" stroke-width="2"/><path d="M1471 554.4 V575.6" stroke="#ab0b0b" stroke-width="2"/><rect x="1465" y="555.2" width="12" height="6.0" fill="#d81a10" stroke="#ab0b0b" stroke-width="2"/><path d="M1487 534.5 V547.8" stroke="#ab0b0b" stroke-width="2"/><rect x="1481" y="535.3" width="12" height="5.6" fill="#d81a10" stroke="#ab0b0b" stroke-width="2"/><path d="M1503 528.4 V583.7" stroke="#4c9a10" stroke-width="2"/><rect x="1497" y="535.3" width="12" height="41.9" fill="#62b206" stroke="#4c9a10" stroke-width="2"/><path d="M1517 534.1 V571.3" stroke="#ab0b0b" stroke-width="2"/><rect x="1511" y="561.2" width="12" height="9.6" fill="#d81a10" stroke="#ab0b0b" stroke-width="2"/><path d="M1533 532.2 V573.7" stroke="#4c9a10" stroke-width="2"/><rect x="1527" y="537.0" width="12" height="36.2" fill="#62b206" stroke="#4c9a10" stroke-width="2"/><path d="M1549 534.5 V561.6" stroke="#ab0b0b" stroke-width="2"/><rect x="1543" y="535.3" width="12" height="25.8" fill="#d81a10" stroke="#ab0b0b" stroke-width="2"/><path d="M1565 520.3 V545.7" stroke="#ab0b0b" stroke-width="2"/><rect x="1558" y="522.2" width="14" height="3.8" fill="#ab0b0b"/><path d="M1579 522.4 V545.7" stroke="#4c9a10" stroke-width="2"/><rect x="1573" y="523.2" width="12" height="3.9" fill="#62b206" stroke="#4c9a10" stroke-width="2"/><path d="M1595 522.4 V543.6" stroke="#ab0b0b" stroke-width="2"/><rect x="1589" y="529.2" width="12" height="5.6" fill="#d81a10" stroke="#ab0b0b" stroke-width="2"/><path d="M1611 512.0 V545.7" stroke="#ab0b0b" stroke-width="2"/><rect x="1605" y="523.2" width="12" height="9.9" fill="#d81a10" stroke="#ab0b0b" stroke-width="2"/><path d="M1627 514.3 V541.4" stroke="#4c9a10" stroke-width="2"/><rect x="1621" y="515.1" width="12" height="25.8" fill="#62b206" stroke="#4c9a10" stroke-width="2"/><path d="M1641 510.3 V525.5" stroke="#4c9a10" stroke-width="2"/><rect x="1635" y="517.1" width="12" height="6.0" fill="#62b206" stroke="#4c9a10" stroke-width="2"/><path d="M1657 510.6 V553.4" stroke="#4c9a10" stroke-width="2"/><rect x="1651" y="511.4" width="12" height="31.0" fill="#62b206" stroke="#4c9a10" stroke-width="2"/><path d="M1689 464.4 V533.4" stroke="#4c9a10" stroke-width="2"/><rect x="1683" y="483.1" width="12" height="31.4" fill="#62b206" stroke="#4c9a10" stroke-width="2"/><path d="M1703 520.3 V560.8" stroke="#4c9a10" stroke-width="2"/><rect x="1697" y="533.1" width="12" height="27.2" fill="#62b206" stroke="#4c9a10" stroke-width="2"/><path d="M1719 554.5 V605.2" stroke="#4c9a10" stroke-width="2"/><rect x="1713" y="555.3" width="12" height="49.4" fill="#62b206" stroke="#4c9a10" stroke-width="2"/><path d="M1735 586.2 V626.3" stroke="#ab0b0b" stroke-width="2"/><rect x="1729" y="597.1" width="12" height="13.5" fill="#d81a10" stroke="#ab0b0b" stroke-width="2"/><path d="M1749 586.6 V611.5" stroke="#ab0b0b" stroke-width="2"/><rect x="1743" y="587.4" width="12" height="19.0" fill="#d81a10" stroke="#ab0b0b" stroke-width="2"/><path d="M1765 586.6 V615.7" stroke="#4c9a10" stroke-width="2"/><rect x="1759" y="591.2" width="12" height="13.5" fill="#62b206" stroke="#4c9a10" stroke-width="2"/><path d="M1781 570.3 V603.7" stroke="#ab0b0b" stroke-width="2"/><rect x="1775" y="585.3" width="12" height="5.7" fill="#d81a10" stroke="#ab0b0b" stroke-width="2"/><path d="M1797 540.1 V577.1" stroke="#ab0b0b" stroke-width="2"/><rect x="1791" y="543.1" width="12" height="33.5" fill="#d81a10" stroke="#ab0b0b" stroke-width="2"/><path d="M1811 540.1 V575.0" stroke="#4c9a10" stroke-width="2"/><rect x="1805" y="561.2" width="12" height="13.3" fill="#62b206" stroke="#4c9a10" stroke-width="2"/><path d="M1827 554.5 V591.4" stroke="#ab0b0b" stroke-width="2"/><rect x="1821" y="563.3" width="12" height="15.4" fill="#d81a10" stroke="#ab0b0b" stroke-width="2"/><path d="M1843 554.5 V571.0" stroke="#4c9a10" stroke-width="2"/><rect x="1837" y="555.3" width="12" height="15.2" fill="#62b206" stroke="#4c9a10" stroke-width="2"/><path d="M1859 552.4 V603.7" stroke="#4c9a10" stroke-width="2"/><rect x="1853" y="565.2" width="12" height="31.4" fill="#62b206" stroke="#4c9a10" stroke-width="2"/><path d="M1873 574.6 V655.2" stroke="#4c9a10" stroke-width="2"/><rect x="1867" y="607.4" width="12" height="47.3" fill="#62b206" stroke="#4c9a10" stroke-width="2"/><path d="M1889 622.7 V645.3" stroke="#ab0b0b" stroke-width="2"/><rect x="1883" y="627.1" width="12" height="13.9" fill="#d81a10" stroke="#ab0b0b" stroke-width="2"/>
<path d="M10 626.5 H1899" stroke="#000" stroke-width="2.2" stroke-dasharray="8 6"/>
<text x="878.5" y="808" font-size="27.6" fill="#ec0000" stroke="#ec0000" stroke-width="0.5">季線扣抵75.3</text>
<text x="1496.5" y="808" font-size="27.6" fill="#ec0000" stroke="#ec0000" stroke-width="0.5">月線扣抵84.3</text>
<path d="M1888 334 V1042" stroke="#000" stroke-width="2.2" stroke-dasharray="8 6"/>
<text x="1757" y="872" font-size="27" fill="#888">成交量</text>
<path d="M1025 820.4 L1195 790 L1350 713 L1734 616 L1873 655.5" fill="none" stroke="#ff0a0a" stroke-width="4.5" stroke-linejoin="miter"/>
<path d="M470 1044 L2008 827.5" fill="none" stroke="#ff0a0a" stroke-width="4.2"/>
<text x="1907.5" y="452" font-size="25" fill="#999">87</text>
<text x="1907.5" y="576.5" font-size="25" fill="#999">82</text>
<text x="1907.5" y="702" font-size="25" fill="#999">77</text>
<text x="1907.5" y="826" font-size="25" fill="#999">72</text>
<text x="1907.5" y="929" font-size="25" fill="#999">50k</text>
<text x="1907.5" y="1029" font-size="25" fill="#999">0k</text>
<text x="47" y="872" font-size="28" fill="#4f63ff">MV5<tspan fill="#222" dx="4">24,682</tspan><tspan fill="#222" font-family="Noto Sans CJK TC" dx="-8" dy="3">↓</tspan></text>
<text x="315" y="872" font-size="28" fill="#ee4545">MV20<tspan fill="#222" dx="4">26,950</tspan><tspan fill="#222" font-family="Noto Sans CJK TC" dx="-8" dy="3">↓</tspan></text>
<text x="583" y="872" font-size="28" fill="#333">成交量<tspan dx="3">20,623</tspan><tspan font-family="Noto Sans CJK TC" dx="-8" dy="3">↓</tspan></text>
</svg>
</body></html>
